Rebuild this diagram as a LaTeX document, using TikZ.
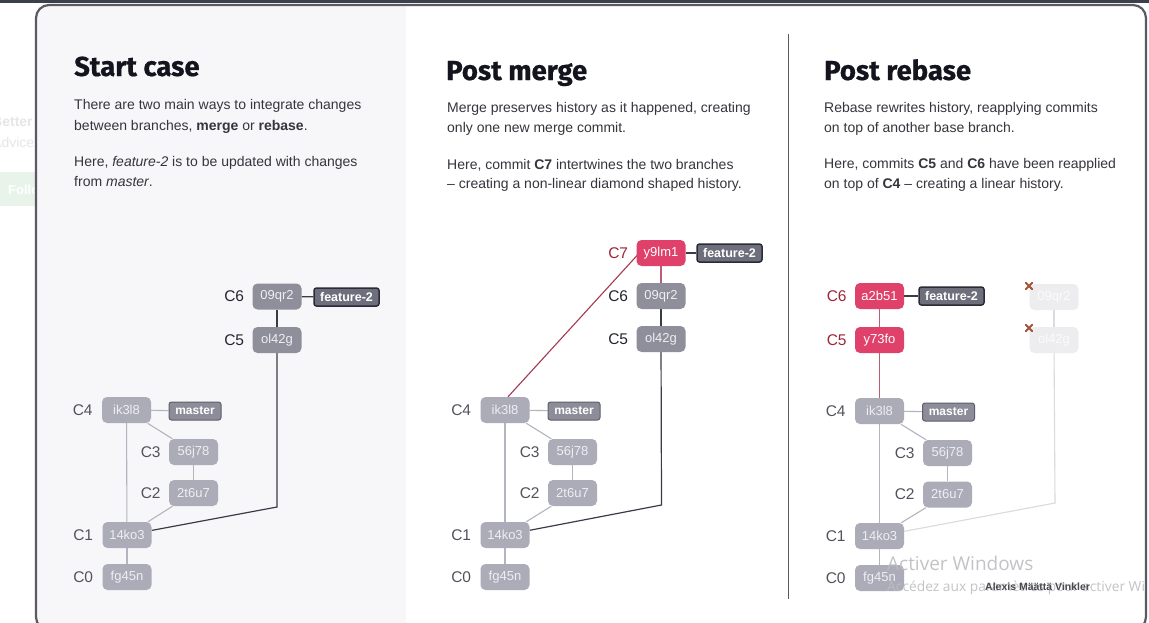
\documentclass[tikz,border=0pt]{standalone}
\usepackage{fontspec}
\setmainfont{Liberation Sans}
\newfontfamily\titlefont{Fira Sans}[BoldFeatures={FakeBold=0.6}]
\newfontfamily\wmfont{Open Sans}
\pgfdeclarelayer{panel}
\pgfdeclarelayer{edges}
\pgfsetlayers{panel,edges,main}
\definecolor{darkbox}{HTML}{8E8F9B}
\definecolor{lightbox}{HTML}{ABACB8}
\definecolor{redbox}{HTML}{E0416A}
\definecolor{ghostbox}{HTML}{EDEDF0}
\definecolor{lighttext}{HTML}{EEEEF3}
\definecolor{tagfeat}{HTML}{6E6F7C}
\definecolor{tagfeatb}{HTML}{2B2B37}
\definecolor{tagmast}{HTML}{8C8D99}
\definecolor{tagmastb}{HTML}{5E5F6A}
\definecolor{lightedge}{HTML}{B3B4BF}
\definecolor{darkedge}{HTML}{3B3B48}
\definecolor{rededge}{HTML}{A53A50}
\definecolor{redsoft}{HTML}{BC5E72}
\definecolor{ghostedge}{HTML}{DADADF}
\definecolor{lbldark}{HTML}{25252F}
\definecolor{lbllight}{HTML}{52525C}
\definecolor{lblred}{HTML}{9C2638}
\definecolor{bodytext}{HTML}{35353D}
\definecolor{titletext}{HTML}{14141E}
\definecolor{panelbg}{HTML}{F7F7F9}
\definecolor{framec}{HTML}{5A5A64}
\definecolor{topbar}{HTML}{3A414B}
\definecolor{crossc}{HTML}{A4533B}
\definecolor{wmc}{HTML}{BDBDC2}
\definecolor{creditc}{HTML}{4A4A50}
\definecolor{fainttext}{HTML}{E6E6E8}
\definecolor{faintgreen}{HTML}{E8F4EA}
\begin{document}
\begin{tikzpicture}[x=1pt,y=-1pt,
  commit/.style={rounded corners=5pt, minimum width=49pt, minimum height=26pt, inner sep=0pt,
    text=lighttext, font=\fontsize{13}{13}\selectfont},
  dcommit/.style={commit, fill=darkbox},
  lcommit/.style={commit, fill=lightbox},
  rcommit/.style={commit, fill=redbox, text=white},
  gcommit/.style={commit, fill=ghostbox, text=white!97!gray},
  tag/.style={rounded corners=2.5pt, minimum height=18pt, inner sep=0pt, text=white,
    font=\fontsize{12}{12}\selectfont\bfseries},
  ftag/.style={tag, fill=tagfeat, draw=tagfeatb, line width=1.5pt, minimum width=65pt, font=\fontsize{12.5}{12.5}\selectfont\bfseries},
  mtag/.style={tag, fill=tagmast, draw=tagmastb, line width=1pt, minimum width=52pt},
  lbl/.style={anchor=east, inner sep=0pt, font=\fontsize{15.5}{16}\selectfont},
  lbld/.style={lbl, text=lbldark},
  lbll/.style={lbl, text=lbllight},
  lblr/.style={lbl, text=lblred},
  ttl/.style={anchor=base west, inner sep=0pt, text=titletext, font=\titlefont\bfseries\fontsize{27.5}{28}\selectfont},
  body/.style={anchor=base west, inner sep=0pt, text=bodytext, font=\fontsize{14}{14}\selectfont},
  ledge/.style={draw=lightedge, line width=1.1pt},
  dedge/.style={draw=darkedge, line width=1.2pt},
  redge/.style={draw=rededge, line width=1.1pt},
  sedge/.style={draw=redsoft, line width=1.1pt},
  gedge/.style={draw=ghostedge, line width=1.1pt},
]
\useasboundingbox (0,0) rectangle (1149,622);
\begin{pgfonlayer}{panel}
  \fill[white] (0,0) rectangle (1149,622);
  \fill[topbar] (0,0) rectangle (1149,2.8);
  \begin{scope}
    \clip (0,0) rectangle (35,622);
    \node[anchor=base west, inner sep=0pt, text=fainttext, font=\fontsize{14}{14}\selectfont\bfseries] at (-8,126) {Better};
    \node[anchor=base west, inner sep=0pt, text=fainttext, font=\fontsize{14}{14}\selectfont] at (-8,147) {Advice};
    \fill[faintgreen, rounded corners=15pt] (-20,172) rectangle (80,206);
    \node[anchor=base west, inner sep=0pt, text=white, font=\fontsize{13}{13}\selectfont\bfseries] at (8,194) {Follow};
  \end{scope}
  \begin{scope}
    \clip[rounded corners=13pt] (36,5) rectangle (1146,630);
    \fill[white] (36,5) rectangle (1146,630);
    \fill[panelbg] (36,5) rectangle (406,630);
  \end{scope}
  \draw[framec, line width=2.2pt, rounded corners=13pt] (36,5) rectangle (1146,630);
  \draw[framec, line width=1.2pt] (788.5,34) -- (788.5,599);
\end{pgfonlayer}

% ---------- texts ----------
\node[ttl] (t1) at (74,76) {Start case};
\node[body] (p1a) at (74,109) {There are two main ways to integrate changes};
\node[body] (p1b) at (74,130) {between branches, \textbf{merge} or \textbf{rebase}.};
\node[body] (p1c) at (74,166) {Here, \textit{feature-2} is to be updated with changes};
\node[body] (p1d) at (74,186) {from \textit{master}.};

\node[ttl] (t2) at (446,80) {Post merge};
\node[body] (p2a) at (447,112) {Merge preserves history as it happened, creating};
\node[body] (p2b) at (447,132) {only one new merge commit.};
\node[body] (p2c) at (447,169) {Here, commit \textbf{C7} intertwines the two branches};
\node[body] (p2d) at (447,188) {– creating a non-linear diamond shaped history.};

\node[ttl] (t3) at (824,80) {Post rebase};
\node[body] (p3a) at (824,112) {Rebase rewrites history, reapplying commits};
\node[body] (p3b) at (824,132) {on top of another base branch.};
\node[body] (p3c) at (824,168) {Here, commits \textbf{C5} and \textbf{C6} have been reapplied};
\node[body] (p3d) at (824,188) {on top of \textbf{C4} – creating a linear history.};

% ---------- panel 1 ----------
\node[dcommit] (a6) at (277,296.5) {09qr2};
\node[ftag] (af) at (346.5,297) {feature-2};
\node[dcommit] (a5) at (277,340) {ol42g};
\node[lcommit] (a4) at (126.5,410) {ik3l8};
\node[mtag] (am) at (195,411) {master};
\node[lcommit] (a3) at (193.5,452) {56j78};
\node[lcommit] (a2) at (193.5,493) {2t6u7};
\node[lcommit] (a1) at (127,535) {14ko3};
\node[lcommit] (a0) at (127,577) {fg45n};
\coordinate (ak) at (277,507);
\node[lbld] (la6) at ([xshift=-8pt]a6.west) {C6};
\node[lbld] (la5) at ([xshift=-8pt]a5.west) {C5};
\node[lbll] (la4) at ([xshift=-9pt]a4.west) {C4};
\node[lbll] (la3) at ([xshift=-8pt]a3.west) {C3};
\node[lbll] (la2) at ([xshift=-8pt]a2.west) {C2};
\node[lbll] (la1) at ([xshift=-9pt]a1.west) {C1};
\node[lbll] (la0) at ([xshift=-9pt]a0.west) {C0};

% ---------- panel 2 ----------
\node[rcommit] (b7) at (661,253) {y9lm1};
\node[ftag] (bf) at (729.5,253) {feature-2};
\node[dcommit] (b6) at (661,296) {09qr2};
\node[dcommit] (b5) at (661,339) {ol42g};
\node[lcommit] (b4) at (505,410) {ik3l8};
\node[mtag] (bm) at (574,411) {master};
\node[lcommit] (b3) at (572.5,452) {56j78};
\node[lcommit] (b2) at (572.5,493) {2t6u7};
\node[lcommit] (b1) at (505,535) {14ko3};
\node[lcommit] (b0) at (505,577) {fg45n};
\coordinate (bk) at (661.5,505);
\node[lblr] (lb7) at ([xshift=-8pt]b7.west) {C7};
\node[lbld] (lb6) at ([xshift=-8pt]b6.west) {C6};
\node[lbld] (lb5) at ([xshift=-8pt]b5.west) {C5};
\node[lbll] (lb4) at ([xshift=-9pt]b4.west) {C4};
\node[lbll] (lb3) at ([xshift=-8pt]b3.west) {C3};
\node[lbll] (lb2) at ([xshift=-8pt]b2.west) {C2};
\node[lbll] (lb1) at ([xshift=-9pt]b1.west) {C1};
\node[lbll] (lb0) at ([xshift=-9pt]b0.west) {C0};

% ---------- panel 3 ----------
\node[rcommit] (c6) at (879.5,296) {a2b51};
\node[ftag] (cf) at (951.5,296) {feature-2};
\node[rcommit] (c5) at (879.5,340) {y73fo};
\node[lcommit] (c4) at (879.5,411) {ik3l8};
\node[mtag] (cm) at (948.5,412) {master};
\node[lcommit] (c3) at (947.5,453) {56j78};
\node[lcommit] (c2) at (947.5,494.5) {2t6u7};
\node[lcommit] (c1) at (879.5,536) {14ko3};
\node[lcommit] (c0) at (879.5,578) {fg45n};
\node[gcommit] (g6) at (1054,297) {09qr2};
\node[gcommit] (g5) at (1054,340) {ol42g};
\coordinate (gk) at (1055,503);
\node[lblr] (lc6) at ([xshift=-8pt]c6.west) {C6};
\node[lblr] (lc5) at ([xshift=-8pt]c5.west) {C5};
\node[lbll] (lc4) at ([xshift=-9pt]c4.west) {C4};
\node[lbll] (lc3) at ([xshift=-8pt]c3.west) {C3};
\node[lbll] (lc2) at ([xshift=-8pt]c2.west) {C2};
\node[lbll] (lc1) at ([xshift=-9pt]c1.west) {C1};
\node[lbll] (lc0) at ([xshift=-9pt]c0.west) {C0};

% crosses on discarded commits
\foreach \p in {(1029,286),(1029,328)}{
  \draw[crossc, line width=1.9pt, line cap=round] \p ++(-3.2,-3.2) -- ++(6.4,6.4);
  \draw[crossc, line width=1.9pt, line cap=round] \p ++(-3.2,3.2) -- ++(6.4,-6.4);
}

% ---------- edges ----------
\begin{pgfonlayer}{edges}
  % panel 1
  \draw[ledge] (a4) -- (a1);
  \draw[ledge] (a4) -- (a3);
  \draw[ledge] (a3) -- (a2);
  \draw[ledge] (a2) -- (a1);
  \draw[ledge] (a1) -- (a0);
  \draw[ledge] (a4) -- (am);
  \draw[dedge] (a6) -- (a5);
  \draw[dedge] (a6) -- (af);
  \draw[dedge] (a5) -- (ak) -- (a1);
  % panel 2
  \draw[ledge] (b4) -- (b1);
  \draw[ledge] (b4) -- (b3);
  \draw[ledge] (b3) -- (b2);
  \draw[ledge] (b2) -- (b1);
  \draw[ledge] (b1) -- (b0);
  \draw[ledge] (b4) -- (bm);
  \draw[dedge] (b6) -- (b5);
  \draw[dedge] (b7) -- (bf);
  \draw[dedge] (b5) -- (bk) -- (b1);
  \draw[sedge] (b7) -- (b6);
  \draw[redge] ([xshift=3pt]b4.north) -- ([xshift=3pt]b7.west);
  % panel 3
  \draw[ledge] (c4) -- (c1);
  \draw[ledge] (c4) -- (c3);
  \draw[ledge] (c3) -- (c2);
  \draw[ledge] (c2) -- (c1);
  \draw[ledge] (c1) -- (c0);
  \draw[ledge] (c4) -- (cm);
  \draw[sedge] (c6) -- (c5);
  \draw[sedge] (c5) -- (c4);
  \draw[dedge] (c6) -- (cf);
  \draw[gedge] (g6) -- (g5);
  \draw[gedge] (g5) -- (gk) -- (c1);
\end{pgfonlayer}

% ---------- overlay texts ----------
\begin{scope}
  \clip (0,0) rectangle (1145,622);
  \node[anchor=base west, inner sep=0pt, text=wmc, opacity=0.9, font=\wmfont\fontsize{19}{19}\selectfont] (wm1) at (887,570) {Activer Windows};
  \node[anchor=base west, inner sep=0pt, text=wmc, opacity=0.9, font=\wmfont\fontsize{13.8}{13.8}\selectfont] (wm2) at (887,591) {Accédez aux paramètres pour activer Windows};
\end{scope}
\node[anchor=base west, inner sep=0pt, text=creditc, font=\fontsize{10.5}{10.5}\selectfont\bfseries] (credit) at (985,590) {Alexis Määttä Vinkler};
\end{tikzpicture}
\end{document}
